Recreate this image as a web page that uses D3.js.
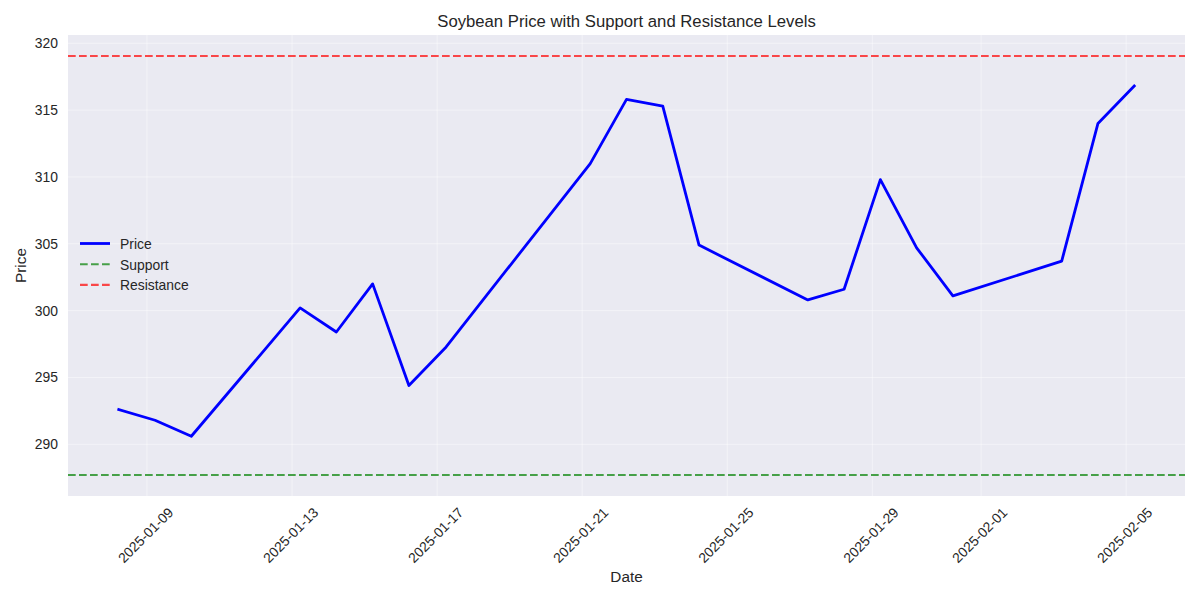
<!DOCTYPE html>
<html>
<head>
<meta charset="utf-8">
<script src="https://cdn.jsdelivr.net/npm/d3@7"></script>
<style>
  body { margin: 0; background: #fff; }
  svg { display: block; font-family: "Liberation Sans", Arial, sans-serif; }
</style>
</head>
<body>
<svg id="chart" width="1200" height="600"></svg>
<script>
// ---- data ----
const dates = [
  "2025-01-08 05:20", "2025-01-09 05:20", "2025-01-10 05:20",
  "2025-01-13 05:20", "2025-01-14 05:20", "2025-01-15 05:20", "2025-01-16 05:20", "2025-01-17 05:20",
  "2025-01-21 05:20", "2025-01-22 05:20", "2025-01-23 05:20", "2025-01-24 05:20",
  "2025-01-27 05:20", "2025-01-28 05:20", "2025-01-29 05:20", "2025-01-30 05:20", "2025-01-31 05:20",
  "2025-02-03 05:20", "2025-02-04 05:20", "2025-02-05 05:20"
];
const prices = [
  292.6, 291.8, 290.6,
  300.2, 298.4, 302.0, 294.4, 297.2,
  311.0, 315.8, 315.3, 304.9,
  300.8, 301.6, 309.8, 304.7, 301.1,
  303.7, 314.0, 316.8
];
const supportLevel = 287.7;
const resistanceLevel = 319.05;
const xTickLabels = ["2025-01-09", "2025-01-13", "2025-01-17", "2025-01-21", "2025-01-25", "2025-01-29", "2025-02-01", "2025-02-05"];
const yTickValues = [290, 295, 300, 305, 310, 315, 320];
const legendLabels = ["Price", "Support", "Resistance"];

// ---- layout ----
const W = 1200, H = 600;
const plot = { left: 68, right: 1185, top: 35, bottom: 496 };
const svg = d3.select("#chart");
const parse = d3.utcParse("%Y-%m-%d %H:%M");
const parseDay = d3.utcParse("%Y-%m-%d");
const xs = dates.map(parse);
const data = xs.map((d, i) => ({ date: d, price: prices[i] }));

const xExt = d3.extent(xs);
const span = xExt[1] - xExt[0];
const x = d3.scaleUtc()
  .domain([new Date(+xExt[0] - span * 0.05), new Date(+xExt[1] + span * 0.05)])
  .range([plot.left, plot.right]);

const yMin = Math.min(d3.min(prices), supportLevel);
const yMax = Math.max(d3.max(prices), resistanceLevel);
const yr = yMax - yMin;
const y = d3.scaleLinear()
  .domain([yMin - yr * 0.05, yMax + yr * 0.05])
  .range([plot.bottom, plot.top]);

const textColor = "#262626";

// background
svg.append("rect")
  .attr("x", plot.left).attr("y", plot.top)
  .attr("width", plot.right - plot.left).attr("height", plot.bottom - plot.top)
  .attr("fill", "#EAEAF2");

// grid
const xTicks = xTickLabels.map(parseDay);
svg.append("g").selectAll("line").data(xTicks).join("line")
  .attr("x1", d => x(d)).attr("x2", d => x(d))
  .attr("y1", plot.top).attr("y2", plot.bottom)
  .attr("stroke", "#fff").attr("stroke-opacity", 0.45).attr("stroke-width", 1);
svg.append("g").selectAll("line").data(yTickValues).join("line")
  .attr("x1", plot.left).attr("x2", plot.right)
  .attr("y1", d => y(d)).attr("y2", d => y(d))
  .attr("stroke", "#fff").attr("stroke-opacity", 0.45).attr("stroke-width", 1);

// clip
svg.append("clipPath").attr("id", "clip").append("rect")
  .attr("x", plot.left).attr("y", plot.top)
  .attr("width", plot.right - plot.left).attr("height", plot.bottom - plot.top);
const g = svg.append("g").attr("clip-path", "url(#clip)");

// price line
const line = d3.line().x(d => x(d.date)).y(d => y(d.price));
g.append("path").datum(data)
  .attr("d", line)
  .attr("fill", "none").attr("stroke", "#0000FF")
  .attr("stroke-width", 2.8).attr("stroke-linejoin", "round").attr("stroke-linecap", "square");

// support / resistance
g.append("line")
  .attr("x1", plot.left).attr("x2", plot.right)
  .attr("y1", y(supportLevel)).attr("y2", y(supportLevel))
  .attr("stroke", "#008000").attr("stroke-opacity", 0.7)
  .attr("stroke-width", 2.1).attr("stroke-dasharray", "7.7,3.3");
g.append("line")
  .attr("x1", plot.left).attr("x2", plot.right)
  .attr("y1", y(resistanceLevel)).attr("y2", y(resistanceLevel))
  .attr("stroke", "#FF0000").attr("stroke-opacity", 0.7)
  .attr("stroke-width", 2.1).attr("stroke-dasharray", "7.7,3.3");

// axes (using d3 axes, then styled)
const xAxis = d3.axisBottom(x).tickValues(xTicks).tickSize(0).tickFormat(d3.utcFormat("%Y-%m-%d"));
const xg = svg.append("g").attr("transform", `translate(0,${plot.bottom})`).call(xAxis);
xg.select(".domain").remove();
xg.selectAll("text")
  .attr("fill", textColor)
  .style("font-size", "13.9px")
  .style("font-family", "'Liberation Sans', Arial, sans-serif")
  .attr("text-anchor", "middle")
  .attr("dy", null).attr("y", null)
  .attr("dominant-baseline", "central")
  .attr("transform", "translate(-2,39) rotate(-45)");

const yAxis = d3.axisLeft(y).tickValues(yTickValues).tickSize(0).tickFormat(d3.format("d"));
const yg = svg.append("g").attr("transform", `translate(${plot.left},0)`).call(yAxis);
yg.select(".domain").remove();
yg.selectAll("text")
  .attr("fill", textColor)
  .style("font-size", "13.9px")
  .style("font-family", "'Liberation Sans', Arial, sans-serif")
  .attr("x", -10);

// title & labels
svg.append("text")
  .attr("x", (plot.left + plot.right) / 2).attr("y", 27)
  .attr("text-anchor", "middle").attr("fill", textColor)
  .style("font-size", "16.7px")
  .text("Soybean Price with Support and Resistance Levels");
svg.append("text")
  .attr("x", (plot.left + plot.right) / 2).attr("y", 582)
  .attr("text-anchor", "middle").attr("fill", textColor)
  .style("font-size", "15.3px")
  .text("Date");
svg.append("text")
  .attr("transform", `translate(26,${(plot.top + plot.bottom) / 2}) rotate(-90)`)
  .attr("text-anchor", "middle").attr("fill", textColor)
  .style("font-size", "15.3px")
  .text("Price");

// legend
const legendStyles = [
  { color: "#0000FF", opacity: 1, dash: null, width: 2.8 },
  { color: "#008000", opacity: 0.7, dash: "7.7,3.3", width: 2.1 },
  { color: "#FF0000", opacity: 0.7, dash: "7.7,3.3", width: 2.1 }
];
const lg = svg.append("g");
legendLabels.forEach((lab, i) => {
  const ly = 243.5 + i * 20.7;
  const s = legendStyles[i];
  lg.append("line")
    .attr("x1", 80).attr("x2", 110).attr("y1", ly).attr("y2", ly)
    .attr("stroke", s.color).attr("stroke-opacity", s.opacity)
    .attr("stroke-width", s.width).attr("stroke-dasharray", s.dash);
  lg.append("text")
    .attr("x", 120).attr("y", ly + 0.5).attr("dominant-baseline", "central")
    .attr("fill", textColor).style("font-size", "13.9px")
    .text(lab);
});
</script>
</body>
</html>
